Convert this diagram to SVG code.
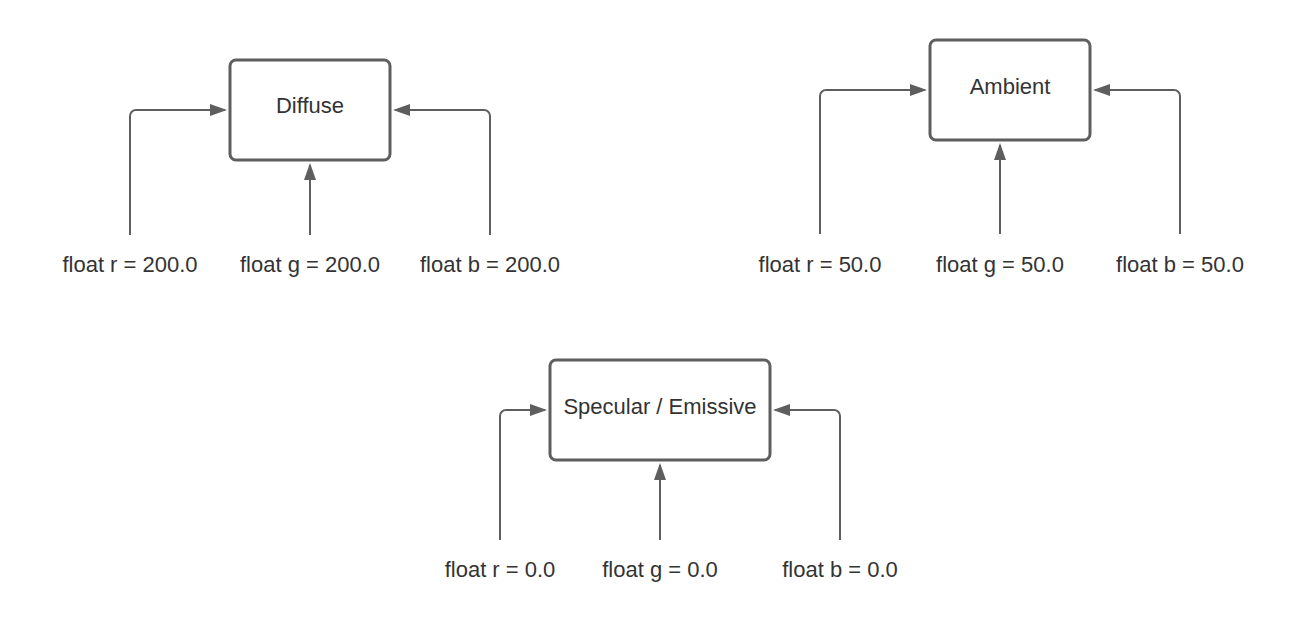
<svg xmlns="http://www.w3.org/2000/svg" width="1310" height="640" viewBox="0 0 1310 640">
<style>
.box{fill:#ffffff;stroke:#5e5e5e;stroke-width:3}
.conn{fill:none;stroke:#5e5e5e;stroke-width:2}
text{font-family:"Liberation Sans",Arial,sans-serif;font-size:22px;fill:#333333;text-anchor:middle}
</style>
<defs>
<marker id="arr" markerUnits="userSpaceOnUse" markerWidth="17" markerHeight="12" refX="15" refY="6" orient="auto">
<path d="M0,0 L17,6 L0,12 z" fill="#5e5e5e"/>
</marker>
</defs>
<rect width="1310" height="640" fill="#ffffff"/>
<g id="connectors">
<path class="conn" marker-end="url(#arr)" d="M130,235 V116 A6,6 0 0 1 136,110 H225"/>
<path class="conn" marker-end="url(#arr)" d="M490,235 V116 A6,6 0 0 0 484,110 H395"/>
<path class="conn" marker-end="url(#arr)" d="M310,235 V165"/>
<path class="conn" marker-end="url(#arr)" d="M820,234 V96 A6,6 0 0 1 826,90 H925"/>
<path class="conn" marker-end="url(#arr)" d="M1180,234 V96 A6,6 0 0 0 1174,90 H1095"/>
<path class="conn" marker-end="url(#arr)" d="M1000,234 V145"/>
<path class="conn" marker-end="url(#arr)" d="M500,540 V416 A6,6 0 0 1 506,410 H545"/>
<path class="conn" marker-end="url(#arr)" d="M840,540 V416 A6,6 0 0 0 834,410 H775"/>
<path class="conn" marker-end="url(#arr)" d="M660,540 V465"/>
</g>
<g id="diffuse">
<rect class="box" x="230" y="60" width="160" height="100" rx="6"/>
<text x="310" y="113">Diffuse</text>
</g>
<g id="ambient">
<rect class="box" x="930" y="40" width="160" height="100" rx="6"/>
<text x="1010" y="94">Ambient</text>
</g>
<g id="specular">
<rect class="box" x="550" y="360" width="220" height="100" rx="6"/>
<text x="660" y="414">Specular / Emissive</text>
</g>
<g id="diffuse-r"><text x="130" y="272">float r = 200.0</text></g>
<g id="diffuse-g"><text x="310" y="272">float g = 200.0</text></g>
<g id="diffuse-b"><text x="490" y="272">float b = 200.0</text></g>
<g id="ambient-r"><text x="820" y="272">float r = 50.0</text></g>
<g id="ambient-g"><text x="1000" y="272">float g = 50.0</text></g>
<g id="ambient-b"><text x="1180" y="272">float b = 50.0</text></g>
<g id="specular-r"><text x="500" y="577">float r = 0.0</text></g>
<g id="specular-g"><text x="660" y="577">float g = 0.0</text></g>
<g id="specular-b"><text x="840" y="577">float b = 0.0</text></g>
</svg>
